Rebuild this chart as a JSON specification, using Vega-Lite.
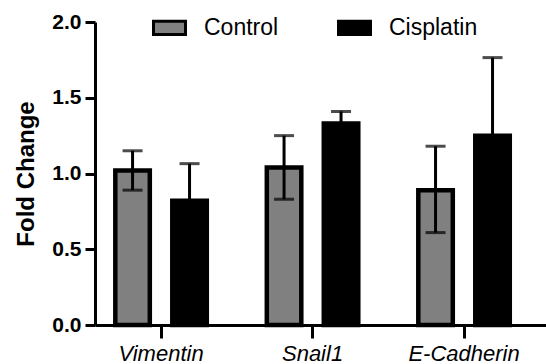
{
  "$schema": "https://vega.github.io/schema/vega-lite/v6.json",
  "autosize": {"type": "none"},
  "padding": {"left": 95, "top": 22, "right": 0, "bottom": 39},
  "width": 451,
  "height": 303,
  "background": "white",
  "config": {
    "view": {"stroke": null},
    "font": "Liberation Sans",
    "axis": {"grid": false, "domainColor": "black", "tickColor": "black", "labelColor": "black", "titleColor": "black", "domainWidth": 3, "tickWidth": 3, "ticks": true}
  },
  "data": {
    "values": [
      {"gene": "Vimentin", "group": "Control", "mean": 1.02, "lo": 0.89, "hi": 1.15},
      {"gene": "Vimentin", "group": "Cisplatin", "mean": 0.82, "lo": 0.575, "hi": 1.065},
      {"gene": "Snail1", "group": "Control", "mean": 1.04, "lo": 0.83, "hi": 1.25},
      {"gene": "Snail1", "group": "Cisplatin", "mean": 1.33, "lo": 1.25, "hi": 1.41},
      {"gene": "E-Cadherin", "group": "Control", "mean": 0.89, "lo": 0.61, "hi": 1.18},
      {"gene": "E-Cadherin", "group": "Cisplatin", "mean": 1.25, "lo": 0.735, "hi": 1.765}
    ]
  },
  "encoding": {
    "x": {
      "field": "gene", "type": "nominal", "sort": ["Vimentin", "Snail1", "E-Cadherin"],
      "scale": {"paddingInner": 0.373, "paddingOuter": 0.175, "align": 0.35},
      "axis": {"title": null, "labelAngle": 0, "labelFontSize": 22, "labelFontStyle": "italic", "labelFont": "Liberation Sans", "ticks": true, "tickBand": "center", "tickSize": 13, "tickWidth": 3, "tickColor": "black", "labelPadding": 5}
    },
    "xOffset": {
      "field": "group", "type": "nominal", "sort": ["Control", "Cisplatin"],
      "scale": {"paddingInner": 0.333, "paddingOuter": 0}
    }
  },
  "layer": [
    {
      "mark": {"type": "bar", "width": 34.5, "stroke": "black", "strokeWidth": 4.5},
      "encoding": {
        "y": {
          "field": "mean", "type": "quantitative",
          "scale": {"domain": [0, 2], "nice": false},
          "axis": {"title": "Fold Change", "values": [0, 0.5, 1, 1.5, 2], "format": ".1f", "labelFontSize": 21, "labelFontWeight": "bold", "labelFont": "Liberation Sans", "tickSize": 10, "labelPadding": 4, "titleFontSize": 24, "titleFontWeight": "bold", "titleFont": "Liberation Sans", "titlePadding": 13}
        },
        "color": {
          "field": "group", "type": "nominal", "sort": ["Control", "Cisplatin"],
          "scale": {"domain": ["Control", "Cisplatin"], "range": ["#808080", "#000000"]},
          "legend": {
            "title": null, "orient": "none", "direction": "horizontal",
            "legendX": 57, "legendY": -12,
            "symbolType": "M-1,-0.42H1V0.42H-1Z", "symbolSize": 1024,
            "symbolStrokeColor": "black", "symbolStrokeWidth": 3,
            "labelFontSize": 23, "labelFont": "Liberation Sans", "labelColor": "black",
            "labelOffset": 17, "columnPadding": 53
          }
        }
      }
    },
    {
      "mark": {"type": "rule", "color": "black", "strokeWidth": 3},
      "encoding": {
        "y": {"field": "lo", "type": "quantitative"},
        "y2": {"field": "hi"}
      }
    },
    {
      "mark": {"type": "tick", "color": "black", "size": 20, "thickness": 3},
      "encoding": {"y": {"field": "hi", "type": "quantitative"}}
    },
    {
      "mark": {"type": "tick", "color": "black", "size": 20, "thickness": 3},
      "encoding": {"y": {"field": "lo", "type": "quantitative"}}
    }
  ]
}
